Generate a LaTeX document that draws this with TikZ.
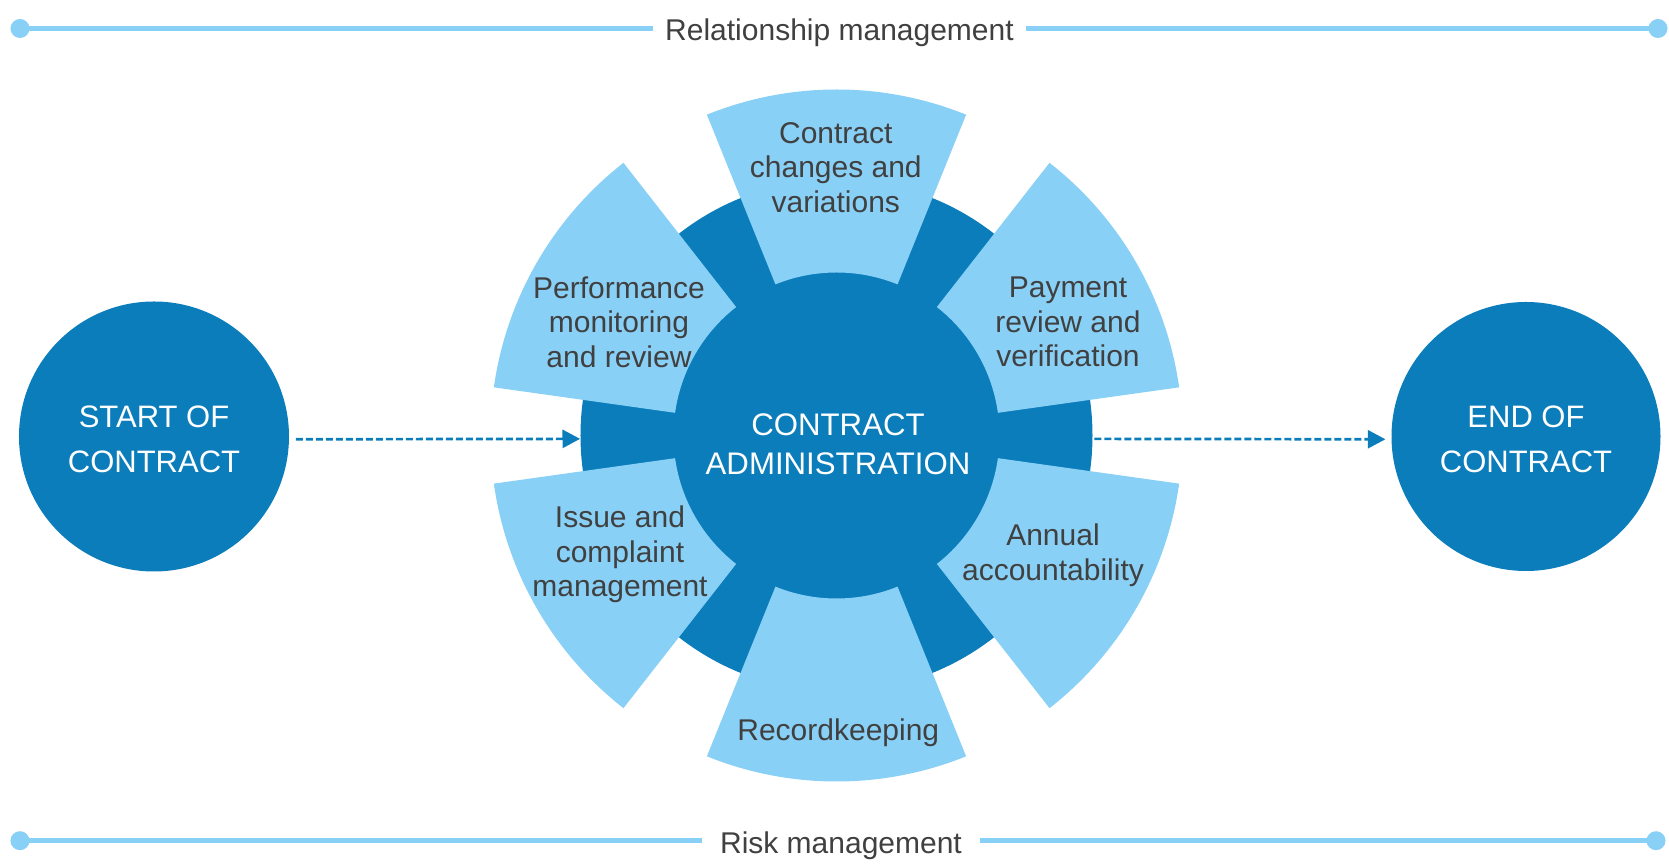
\documentclass[tikz,border=0pt]{standalone}
\usepackage{fontspec}
\setmainfont{Liberation Sans}
\usetikzlibrary{arrows.meta}
\pgfdeclarelayer{background}
\pgfdeclarelayer{foreground}
\pgfsetlayers{background,main,foreground}

\definecolor{darkblue}{RGB}{12,125,187}
\definecolor{lightblue}{RGB}{137,208,247}
\definecolor{textgray}{RGB}{64,64,64}

\tikzset{
  disc/.style={circle, fill=darkblue, inner sep=0pt},
  disctext/.style={text=white, align=center, font=\fontsize{15.5}{22.3}\selectfont},
  petal/.style={text=textgray, align=center, font=\fontsize{15}{17.25}\selectfont},
  flow/.style={darkblue, line width=1.35pt, dash pattern=on 3.5pt off 1.5pt,
    -{Triangle[length=8.8pt,width=9pt]}},
  rule/.style={lightblue, line width=2.5pt},
  title/.style={text=textgray, anchor=base, inner ysep=0pt, font=\fontsize{15}{18}\selectfont}
}

\begin{document}
\begin{tikzpicture}[x=0.5pt,y=0.5pt]
\useasboundingbox (-836.5,-429.5) rectangle (832.5,435.5);
\begin{pgfonlayer}{background}
\node[disc, minimum size=256pt] (hub) at (0,0) {};
\end{pgfonlayer}
\foreach \a in {30,90,...,330}
  \fill[lightblue] (\a-22:163) arc[start angle=\a-22, end angle=\a+22, radius=163]
    -- (\a+22:346) arc[start angle=\a+22, end angle=\a-22, radius=346] -- cycle;
\begin{pgfonlayer}{foreground}
\node[disctext, font=\fontsize{15.6}{19.5}\selectfont] (admin) at (1.5,-8.8) {CONTRACT\\ADMINISTRATION};
\node[petal] (changes) at (-0.7,268) {Contract\\changes and\\variations};
\node[petal] (payment) at (231.5,113.5) {Payment\\review and\\verification};
\node[petal] (annual) at (216.5,-119.8) {Annual\\accountability};
\node[petal] (records) at (1.8,-297.7) {Recordkeeping};
\node[petal] (issues) at (-216.5,-119.2) {Issue and\\complaint\\management};
\node[petal] (perform) at (-217.5,113.5) {Performance\\monitoring\\and review};
\end{pgfonlayer}
\node[disc, minimum size=135pt] (start) at (-682.5,-1) {};
\node[disctext] (starttext) at (-682.5,-3.7) {START OF\\CONTRACT};
\node[disc, minimum size=134.5pt] (finish) at (689.5,-1) {};
\node[disctext] (finishtext) at (689.5,-3.7) {END OF\\CONTRACT};
\draw[flow, shorten <=3.25pt, transform canvas={yshift=-1.5pt}] (start) -- (hub);
\draw[flow, shorten <=0.75pt, shorten >=2.85pt, transform canvas={yshift=-1.5pt}] (hub) -- (finish);
% relationship and risk bands
\node[title, inner xsep=6pt] (relation) at (3,394.6) {Relationship management};
\node[title, inner xsep=9pt] (risk) at (4.5,-417.8) {Risk management};
\coordinate (relL) at (-816.5,407);
\coordinate (relR) at (821.5,407);
\coordinate (riskL) at (-816.5,-405.2);
\coordinate (riskR) at (819.5,-405.2);
\draw[rule] (relL) -- (relation.west |- relL);
\draw[rule] (relation.east |- relR) -- (relR);
\draw[rule] (riskL) -- (risk.west |- riskL);
\draw[rule] (risk.east |- riskR) -- (riskR);
\foreach \p in {relL,relR,riskL,riskR}
  \fill[lightblue] (\p) circle (9.5);
\end{tikzpicture}
\end{document}
